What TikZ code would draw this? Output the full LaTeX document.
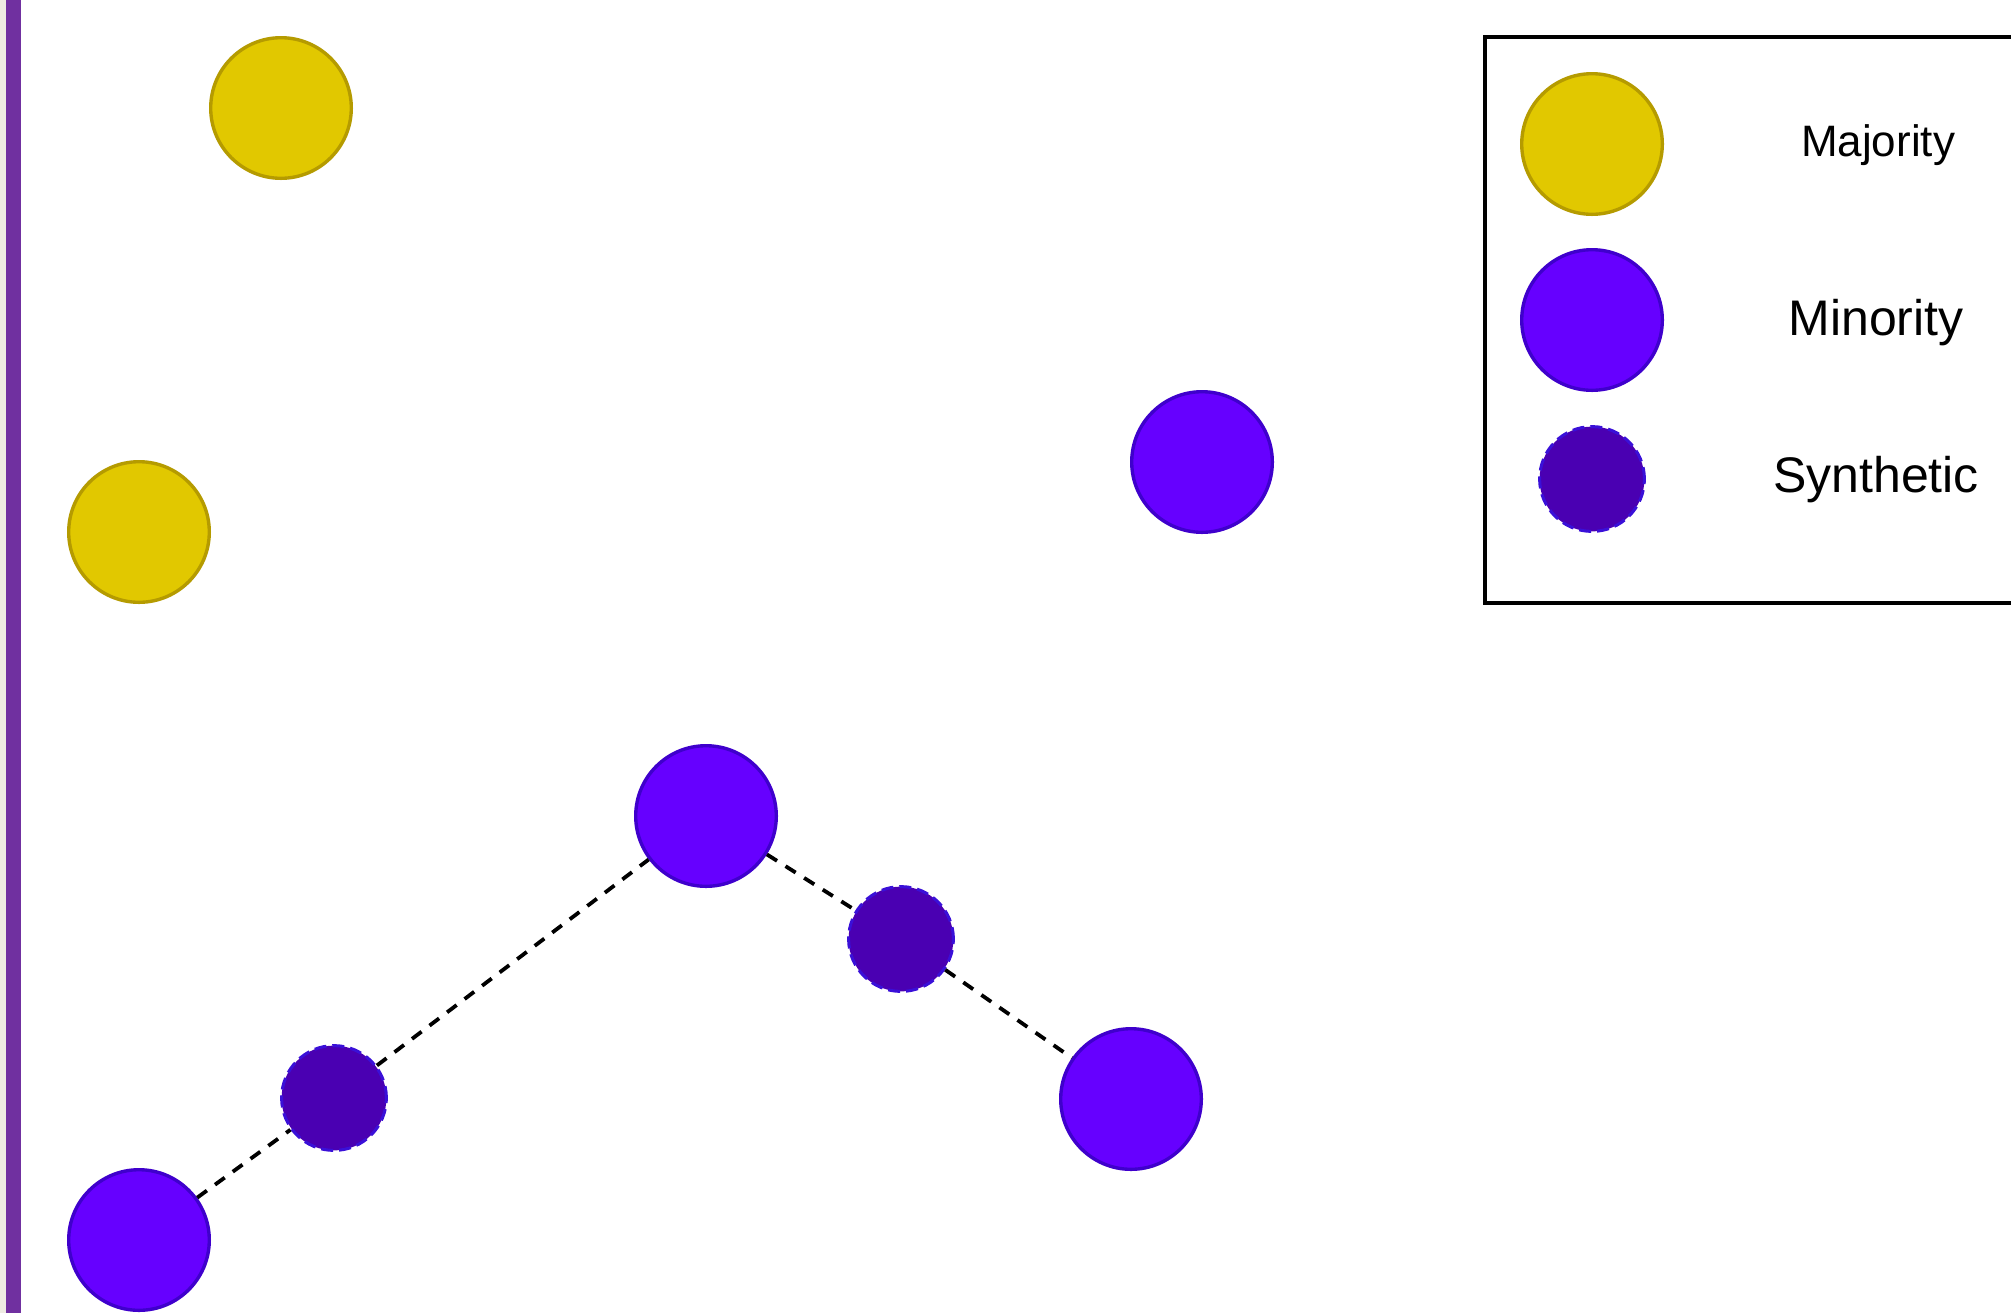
\documentclass[tikz,border=0pt]{standalone}
\usepackage{fontspec}
\setmainfont{Liberation Sans}
\definecolor{majfill}{HTML}{E1C800}
\definecolor{majdraw}{HTML}{B59B00}
\definecolor{minfill}{HTML}{6600FF}
\definecolor{mindraw}{HTML}{3F00CC}
\definecolor{synfill}{HTML}{4A00B2}
\definecolor{syndraw}{HTML}{3A10D8}
\definecolor{barcol}{HTML}{7030A0}
\definecolor{stripcol}{HTML}{EEEBE2}
\begin{document}
\begin{tikzpicture}[x=0.5pt,y=-0.5pt,
  majpt/.style={circle,fill=majfill,draw=majdraw,line width=1.7pt,minimum size=70.3pt,inner sep=0pt},
  minpt/.style={circle,fill=minfill,draw=mindraw,line width=1.7pt,minimum size=70.3pt,inner sep=0pt},
  synpt/.style={circle,fill=synfill,draw=syndraw,line width=1.5pt,dash pattern=on 6pt off 3pt,minimum size=52.4pt,inner sep=0pt},
  link/.style={line width=1.9pt,dash pattern=on 6pt off 5pt,black},
  lbl/.style={anchor=base,inner sep=0pt,font=\fontsize{25}{30}\selectfont},
  lblsmall/.style={anchor=base,inner sep=0pt,font=\fontsize{22}{26}\selectfont}]
\useasboundingbox (0,0) rectangle (2011,1313);
\clip (0,0) rectangle (2011,1313);
\fill[white] (0,0) rectangle (2011,1313);
% left strip and bar
\fill[stripcol] (0,0) rectangle (6,1313);
\fill[barcol] (6,0) rectangle (21,1313);
% legend frame
\draw[line width=1.6pt] (2040,37) -- (1485,37) -- (1485,603) -- (2040,603);
% points
\node[majpt] (a1) at (281,108) {};
\node[majpt] (a2) at (139,532) {};
\node[minpt] (b1) at (1202,462) {};
\node[minpt] (b2) at (706,816) {};
\node[minpt] (b3) at (1131,1099) {};
\node[minpt] (b4) at (139,1240) {};
\node[synpt] (s1) at (334,1098) {};
\node[synpt] (s2) at (901,939) {};
% connectors
\draw[link] (b4) -- (s1);
\draw[link] (s1) -- (b2);
\draw[link] (b2) -- (s2);
\draw[link] (s2) -- (b3);
% legend
\node[majpt] (la) at (1592,144) {};
\node[minpt] (lb) at (1592,320) {};
\node[synpt] (ls) at (1592,479) {};
\node[lblsmall] (ta) at (1878,156) {Majority};
\node[lbl] (tb) at (1876,335) {Minority};
\node[lbl] (ts) at (1876,492) {Synthetic};
\end{tikzpicture}
\end{document}
